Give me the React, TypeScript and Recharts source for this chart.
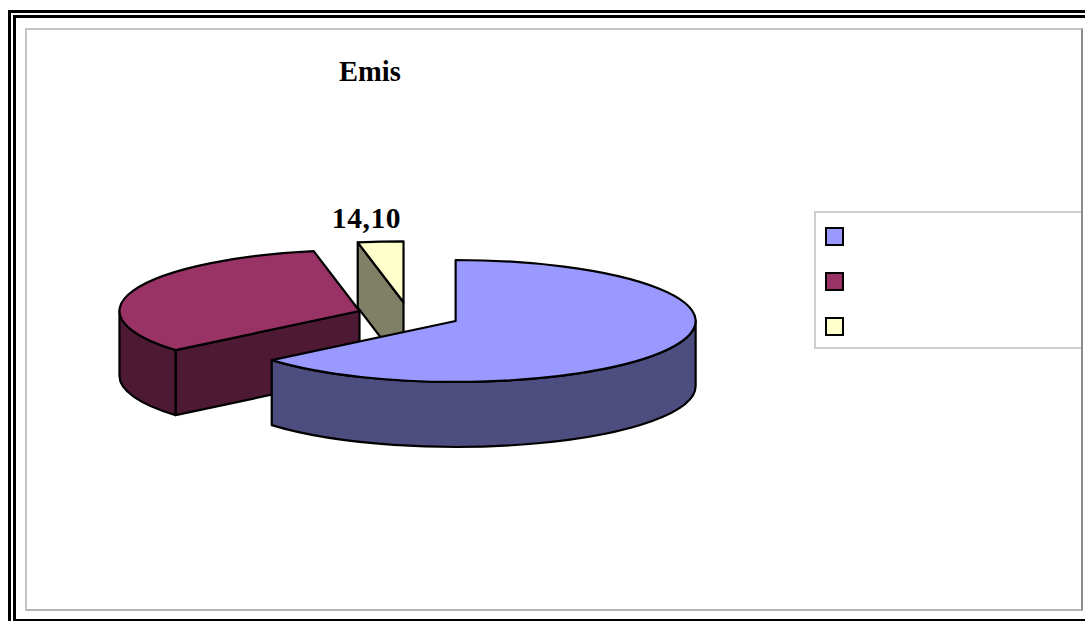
import { PieChart, Pie, Cell, Legend } from "recharts";

// slices run counter-clockwise from 12 o'clock so the back one paints first
const SLICE_NAMES = ["Serie C", "Serie B", "Serie A"];
const SLICE_VALUES = [14.1, 152.5, 294.8];
const TOP_COLORS = ["#FFFFCC", "#993366", "#9999FF"];
const SIDE_COLORS = ["#808066", "#4D1933", "#4D4D80"];

const LEGEND_ORDER = [2, 1, 0];
const TITLE = "Emis";

const SQUASH = 0.254;
const EXPLODE = 52;
const DEPTH = 65;
const RAD = Math.PI / 180;

const chartData = SLICE_NAMES.map((name, i) => ({ name, value: SLICE_VALUES[i] }));

function Slice3D(props: any) {
  const { cx, cy, outerRadius: r, startAngle, endAngle, index } = props;
  const mid = ((startAngle + endAngle) / 2) * RAD;
  const ox = cx + EXPLODE * Math.cos(mid);
  const oy = cy - EXPLODE * Math.sin(mid) * SQUASH;
  const ry = r * SQUASH;
  const pt = (a: number, drop = 0) =>
    `${ox + r * Math.cos(a * RAD)} ${oy - ry * Math.sin(a * RAD) + drop}`;

  const stroke = { stroke: "#000", strokeWidth: 2.2, strokeLinejoin: "round" as const };
  const side = SIDE_COLORS[index];
  const walls: React.ReactNode[] = [];

  // cut faces that turn toward the viewer
  const radialFace = (a: number, key: string) => (
    <path
      key={key}
      d={`M${ox} ${oy}L${pt(a)}L${pt(a, DEPTH)}L${ox} ${oy + DEPTH}Z`}
      fill={side}
      {...stroke}
    />
  );
  if (Math.cos(startAngle * RAD) > 0.001) walls.push(radialFace(startAngle, "start"));
  if (Math.cos(endAngle * RAD) < -0.001) walls.push(radialFace(endAngle, "end"));

  // rim along the front half of the ellipse
  const a1 = Math.max(startAngle, 180);
  const a2 = Math.min(endAngle, 360);
  if (a2 > a1) {
    walls.push(
      <path
        key="rim"
        d={`M${pt(a1)}A${r} ${ry} 0 0 0 ${pt(a2)}L${pt(a2, DEPTH)}A${r} ${ry} 0 0 1 ${pt(a1, DEPTH)}Z`}
        fill={side}
        {...stroke}
      />
    );
  }

  const large = endAngle - startAngle > 180 ? 1 : 0;
  return (
    <g>
      {walls}
      <path
        d={`M${ox} ${oy}L${pt(startAngle)}A${r} ${ry} 0 ${large} 0 ${pt(endAngle)}Z`}
        fill={TOP_COLORS[index]}
        {...stroke}
      />
    </g>
  );
}

// only the smallest slice carries a value label
function SliceLabel(props: any) {
  const { cx, cy, outerRadius: r, midAngle, index } = props;
  if (index !== 0) return null;
  const x = cx + (EXPLODE + r) * Math.cos(midAngle * RAD) - 14;
  const y = cy - (EXPLODE + r) * Math.sin(midAngle * RAD) * SQUASH - 14;
  return (
    <text
      x={x}
      y={y}
      textAnchor="middle"
      fontFamily="Liberation Serif"
      fontWeight="bold"
      fontSize={29.5}
      letterSpacing={0.6}
      fill="#000"
    >
      {SLICE_VALUES[index].toFixed(2).replace(".", ",")}
    </text>
  );
}

function LegendBox() {
  return (
    <div
      style={{
        width: 265,
        height: 134,
        border: "2px solid #cfcfcf",
        borderRight: "none",
        background: "#fff",
        position: "relative",
      }}
    >
      {LEGEND_ORDER.map((idx, i) => (
        <span
          key={SLICE_NAMES[idx]}
          style={{
            position: "absolute",
            left: 9,
            top: 14 + i * 45,
            width: 15,
            height: 15,
            background: TOP_COLORS[idx],
            border: "2px solid #000",
          }}
        />
      ))}
    </div>
  );
}

export default function App() {
  return (
    <div style={{ position: "fixed", left: 0, top: 0, width: 1085, height: 621, overflow: "hidden", background: "#fff" }}>
      {/* double rule around the page */}
      <div style={{ position: "absolute", left: 8, top: 10, width: 1100, height: 640, border: "3px solid #000" }} />
      <div style={{ position: "absolute", left: 13, top: 15, width: 1100, height: 601, border: "3px solid #000" }} />
      {/* chart area */}
      <div
        style={{
          position: "absolute",
          left: 25,
          top: 28,
          width: 1054,
          height: 579,
          borderTop: "2px solid #c4c4c4",
          borderLeft: "2px solid #c4c4c4",
          borderBottom: "2px solid #b4b4b4",
          borderRight: "2px solid #8c8c8c",
        }}
      />
      <div
        style={{
          position: "absolute",
          left: 339,
          top: 55,
          fontFamily: "Liberation Serif",
          fontWeight: "bold",
          fontSize: 28.5,
          lineHeight: "33px",
          color: "#000",
        }}
      >
        {TITLE}
      </div>
      <div style={{ position: "absolute", left: 0, top: 0 }}>
        <PieChart width={1085} height={621} margin={{ top: 0, right: 0, bottom: 0, left: 0 }}>
          <Pie
            data={chartData}
            dataKey="value"
            nameKey="name"
            cx={408.5}
            cy={315.4}
            outerRadius={240}
            startAngle={90}
            endAngle={450}
            shape={Slice3D}
            label={SliceLabel}
            labelLine={false}
            isAnimationActive={false}
          >
            {chartData.map((d, i) => (
              <Cell key={d.name} fill={TOP_COLORS[i]} />
            ))}
          </Pie>
          <Legend
            content={LegendBox}
            wrapperStyle={{ position: "absolute", left: 814, top: 211, bottom: "auto", width: 267, height: 138 }}
          />
        </PieChart>
      </div>
    </div>
  );
}
